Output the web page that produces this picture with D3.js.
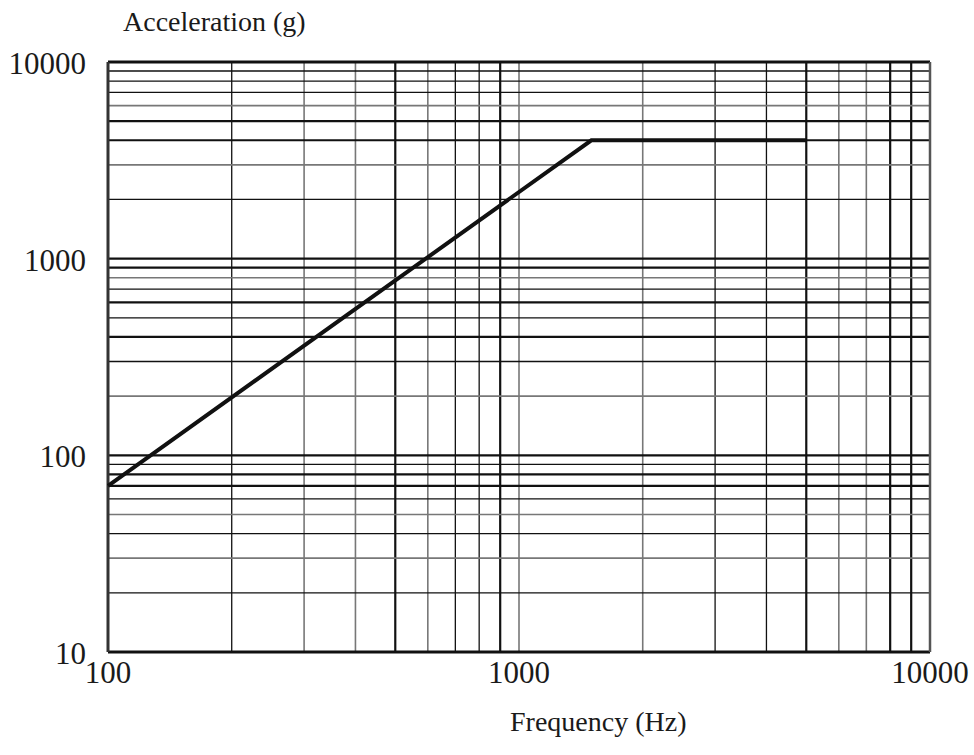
<!DOCTYPE html>
<html>
<head>
<meta charset="utf-8">
<script src="https://cdn.jsdelivr.net/npm/d3@7"></script>
<style>
  body { margin: 0; background: #fff; }
  text { font-family: "Liberation Serif", "Times New Roman", serif; fill: #1a1a1a; }
</style>
</head>
<body>
<svg id="chart" width="974" height="755"></svg>
<script>
// data
const frequency = [100, 1500, 5000]
const acceleration = [70, 4000, 4000]

const xTicks = [100, 1000, 10000]
const yTicks = [10, 100, 1000, 10000]

// grid lines grouped by how they are drawn in the original
const xGridThick = [500, 900, 5000, 8000, 9000]
const xGridThin = [200, 700, 800, 3000, 4000]
const xGridGray = [300, 400, 600, 1000, 2000, 6000, 7000]

const yGridThick = [70, 80, 100, 400, 600, 900, 1000, 4000, 5000]
const yGridThin = [20, 40, 60, 90, 300, 500, 700, 2000, 7000, 8000, 9000]
const yGridGray = [30, 50, 200, 800, 3000, 6000]

const margin = { top: 62, right: 44, bottom: 103, left: 108 }
const width = 974
const height = 755
const innerW = width - margin.left - margin.right
const innerH = height - margin.top - margin.bottom

const svg = d3.select('#chart')

const x = d3.scaleLog().domain([100, 10000]).range([0, innerW])
const y = d3.scaleLog().domain([10, 10000]).range([innerH, 0])

const g = svg.append('g').attr('transform', `translate(${margin.left},${margin.top})`)

const lineStyles = {
  thick: { stroke: '#111', width: 2.2 },
  thin: { stroke: '#111', width: 1.3 },
  gray: { stroke: '#777', width: 1.6 },
}

function vLines(values, style) {
  g.append('g')
    .selectAll('line')
    .data(values)
    .join('line')
    .attr('x1', (d) => x(d))
    .attr('x2', (d) => x(d))
    .attr('y1', 0)
    .attr('y2', innerH)
    .attr('stroke', lineStyles[style].stroke)
    .attr('stroke-width', lineStyles[style].width)
}

function hLines(values, style) {
  g.append('g')
    .selectAll('line')
    .data(values)
    .join('line')
    .attr('y1', (d) => y(d))
    .attr('y2', (d) => y(d))
    .attr('x1', 0)
    .attr('x2', innerW)
    .attr('stroke', lineStyles[style].stroke)
    .attr('stroke-width', lineStyles[style].width)
}

vLines(xGridGray, 'gray')
vLines(xGridThin, 'thin')
vLines(xGridThick, 'thick')
hLines(yGridGray, 'gray')
hLines(yGridThin, 'thin')
hLines(yGridThick, 'thick')

// frame
g.append('line').attr('x1', 0).attr('x2', innerW).attr('y1', 0).attr('y2', 0)
  .attr('stroke', '#111').attr('stroke-width', 3)
g.append('line').attr('x1', 0).attr('x2', innerW).attr('y1', innerH).attr('y2', innerH)
  .attr('stroke', '#111').attr('stroke-width', 3)
g.append('line').attr('x1', 0).attr('x2', 0).attr('y1', 0).attr('y2', innerH)
  .attr('stroke', '#333').attr('stroke-width', 3)
g.append('line').attr('x1', innerW).attr('x2', innerW).attr('y1', 0).attr('y2', innerH)
  .attr('stroke', '#555').attr('stroke-width', 2.5)

// curve
const line = d3.line()
  .x((d) => x(d[0]))
  .y((d) => y(d[1]))

g.append('path')
  .datum(d3.zip(frequency, acceleration))
  .attr('fill', 'none')
  .attr('stroke', '#111')
  .attr('stroke-width', 4)
  .attr('d', line)

// tick labels
g.append('g')
  .selectAll('text')
  .data(yTicks)
  .join('text')
  .attr('x', -22)
  .attr('y', (d) => y(d) + 12)
  .attr('text-anchor', 'end')
  .attr('font-size', 31)
  .text((d) => d)

g.append('g')
  .selectAll('text')
  .data(xTicks)
  .join('text')
  .attr('x', (d) => x(d))
  .attr('y', innerH + 31)
  .attr('text-anchor', 'middle')
  .attr('font-size', 31)
  .text((d) => d)

// axis titles
svg.append('text')
  .attr('x', 123)
  .attr('y', 31)
  .attr('font-size', 28)
  .text('Acceleration (g)')

svg.append('text')
  .attr('x', 510)
  .attr('y', 731)
  .attr('font-size', 28)
  .text('Frequency (Hz)')
</script>
</body>
</html>
